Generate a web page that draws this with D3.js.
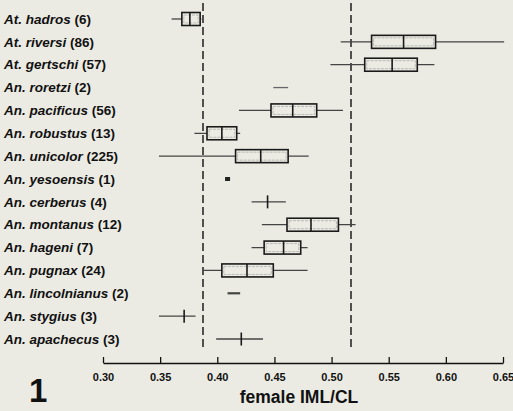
<!DOCTYPE html>
<html>
<head>
<meta charset="utf-8">
<script src="https://cdn.jsdelivr.net/npm/d3@7"></script>
<style>
  html, body { margin: 0; padding: 0; background: #ecebe3; overflow: hidden; }
  text { font-family: "Liberation Sans", Arial, sans-serif; font-weight: bold; fill: #111; }
</style>
</head>
<body>
<script>
// species (genus abbreviation + name) and sample sizes
const species = ["At. hadros", "At. riversi", "At. gertschi", "An. roretzi", "An. pacificus",
    "An. robustus", "An. unicolor", "An. yesoensis", "An. cerberus", "An. montanus",
    "An. hageni", "An. pugnax", "An. lincolnianus", "An. stygius", "An. apachecus"];
const counts = [6, 86, 57, 2, 56, 13, 225, 1, 4, 12, 7, 24, 2, 3, 3];

// box plot values (female IML/CL); null = not drawn
const whiskerLow = [0.360, 0.508, 0.499, 0.449, 0.419, 0.380, 0.349, 0.409, 0.430, 0.439, 0.430, 0.388, 0.409, 0.349, 0.399];
const quart1     = [0.369, 0.535, 0.529, null,  0.447, 0.391, 0.416, null,  null,  0.461, 0.441, 0.404, null,  null,  null];
const medians    = [0.376, 0.563, 0.553, null,  0.466, 0.404, 0.438, null,  0.444, 0.482, 0.458, 0.426, null,  0.371, 0.421];
const quart3     = [0.385, 0.591, 0.575, null,  0.487, 0.417, 0.462, null,  null,  0.506, 0.473, 0.449, null,  null,  null];
const whiskerHigh= [0.386, 0.651, 0.590, 0.462, 0.510, 0.420, 0.480, 0.409, 0.460, 0.521, 0.479, 0.479, 0.420, 0.381, 0.440];

// dashed reference lines
const refLines = [0.3875, 0.517];
const xTicks = [0.30, 0.35, 0.40, 0.45, 0.50, 0.55, 0.60, 0.65];

const width = 513, height = 411;

const svg = d3.select("body").append("svg")
    .attr("width", width)
    .attr("height", height);

const x = d3.scaleLinear().domain([0.30, 0.65]).range([103, 503]);
const y = d3.scalePoint().domain(species).range([19, 339]);

const rows = species.map((s, i) => ({
    name: s, n: counts[i], lo: whiskerLow[i], q1: quart1[i],
    med: medians[i], q3: quart3[i], hi: whiskerHigh[i]
}));

// labels: italic name, upright count
const labels = svg.append("g").selectAll("text")
    .data(rows)
    .join("text")
    .attr("x", 4)
    .attr("y", d => y(d.name))
    .attr("dy", "0.35em")
    .style("font-size", "13.5px");
labels.append("tspan").style("font-style", "italic").text(d => d.name);
labels.append("tspan").text(d => " (" + d.n + ")");

// dashed reference lines
svg.append("g").selectAll("line")
    .data(refLines)
    .join("line")
    .attr("x1", d => x(d)).attr("x2", d => x(d))
    .attr("y1", 3).attr("y2", 350)
    .attr("stroke", "#111")
    .attr("stroke-width", 1.4)
    .attr("stroke-dasharray", "8,4");

const boxH = 13;
const g = svg.append("g").selectAll("g")
    .data(rows)
    .join("g")
    .attr("transform", d => `translate(0,${y(d.name)})`);

// whiskers
g.filter(d => d.n > 1).append("line")
    .attr("x1", d => x(d.lo)).attr("x2", d => x(d.hi))
    .attr("stroke", "#444")
    .attr("stroke-width", d => d.n == 2 ? 2.2 : 1.3)
    .filter(d => d.name == "An. roretzi").attr("stroke-width", 1.3).attr("stroke", "#666");

// single observation
g.filter(d => d.n == 1).append("rect")
    .attr("x", d => x(d.lo) - 2.5).attr("y", -2)
    .attr("width", 5).attr("height", 4)
    .attr("fill", "#222");

// boxes
const boxed = g.filter(d => d.q1 != null);
boxed.append("rect")
    .attr("x", d => x(d.q1)).attr("y", -boxH / 2)
    .attr("width", d => x(d.q3) - x(d.q1)).attr("height", boxH)
    .attr("fill", "#ecebe3")
    .attr("stroke", "#1a1a1a")
    .attr("stroke-width", 1.6);
boxed.append("rect")
    .attr("x", d => x(d.q1) + 2).attr("y", -boxH / 2 + 2.5)
    .attr("width", d => x(d.q3) - x(d.q1) - 4).attr("height", boxH - 5)
    .attr("fill", "none")
    .attr("stroke", "#999")
    .attr("stroke-width", 0.6)
    .attr("stroke-dasharray", "3,1");

// medians
g.filter(d => d.med != null).append("line")
    .attr("x1", d => x(d.med)).attr("x2", d => x(d.med))
    .attr("y1", -boxH / 2).attr("y2", boxH / 2)
    .attr("stroke", "#1a1a1a")
    .attr("stroke-width", 1.6);

// x axis, ticks pointing up
const axis = svg.append("g")
    .attr("transform", "translate(0,363)")
    .call(d3.axisBottom(x).tickValues(xTicks).tickFormat(d3.format(".2f")).tickSizeInner(-6).tickSizeOuter(0).tickPadding(5));
axis.select(".domain").attr("stroke", "#111").attr("stroke-width", 1.5);
axis.selectAll(".tick line").attr("stroke", "#111").attr("stroke-width", 1.3);
axis.selectAll(".tick text")
    .attr("y", 10)
    .style("font-size", "11px")
    .style("font-family", "'Liberation Sans', Arial, sans-serif")
    .style("font-weight", "bold")
    .attr("fill", "#111");

svg.append("text")
    .attr("x", 299).attr("y", 403)
    .attr("text-anchor", "middle")
    .style("font-size", "17.5px")
    .text("female IML/CL");

svg.append("text")
    .attr("x", 29).attr("y", 402)
    .style("font-size", "33px")
    .text("1");
</script>
</body>
</html>
